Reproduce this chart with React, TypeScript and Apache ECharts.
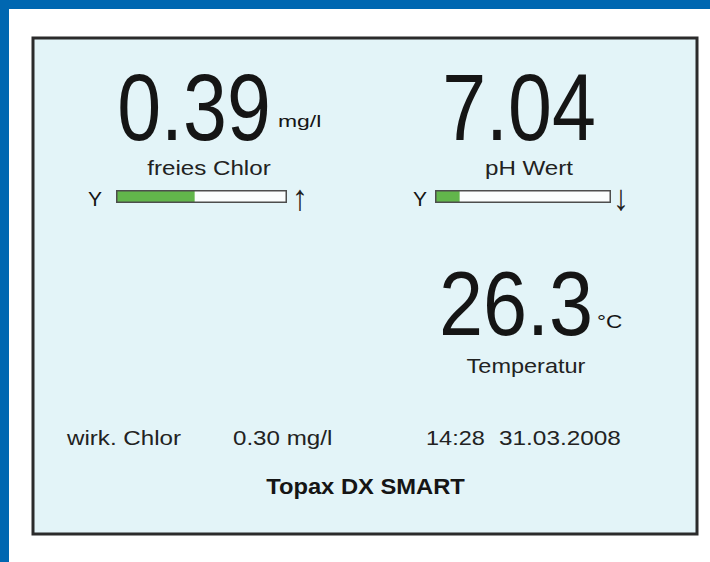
import React, { useEffect, useRef } from "react";
import * as echarts from "echarts";

// ---- data ----
const measurementLabels = ["freies Chlor", "pH Wert", "Temperatur"];
const measurementValues = [0.39, 7.04, 26.3];
const measurementDecimals = [2, 2, 1];
const measurementUnits = ["mg/l", "", "°C"];
const barCategories = ["freies Chlor", "pH Wert"];
const barLevels = [46, 14]; // filled share of the bar, %
const barMarkers = ["Y", "Y"];
const trendArrows = ["↑", "↓"];
const footerLabel = "wirk. Chlor";
const footerValue = 0.3;
const footerUnit = "mg/l";
const timeText = "14:28";
const dateText = "31.03.2008";
const deviceName = "Topax DX SMART";

const FONT = "'Liberation Sans', Arial, Helvetica, sans-serif";

function txt(
  text: string,
  x: number,
  y: number,
  size: number,
  sx: number,
  align: string,
  weight: string = "normal",
  sy: number = 1,
  fill: string = "#151515"
) {
  return {
    type: "text",
    x,
    y,
    scaleX: sx,
    scaleY: sy,
    z: 20,
    style: {
      text,
      x: 0,
      y: 0,
      align,
      verticalAlign: "middle",
      fill,
      font: `${weight} ${size}px ${FONT}`,
    },
  };
}

export default function App() {
  const ref = useRef<HTMLDivElement>(null);
  useEffect(() => {
    if (!ref.current) return;
    const chart = echarts.init(ref.current, undefined, { renderer: "svg" });

    const grids = [
      { left: 116, top: 190, width: 171, height: 13 },
      { left: 435, top: 190, width: 176, height: 13 },
    ];
    const series: any[] = [];
    barCategories.forEach((_, i) => {
      series.push({
        type: "bar",
        xAxisIndex: i,
        yAxisIndex: i,
        data: [100],
        barWidth: 13,
        barGap: "-100%",
        silent: true,
        itemStyle: { color: "#fbfdfd" },
        z: 2,
      });
      series.push({
        type: "bar",
        xAxisIndex: i,
        yAxisIndex: i,
        data: [barLevels[i]],
        barWidth: 13,
        barGap: "-100%",
        silent: true,
        itemStyle: { color: "#62b64b" },
        z: 3,
      });
      series.push({
        type: "bar",
        xAxisIndex: i,
        yAxisIndex: i,
        data: [100],
        barWidth: 13,
        barGap: "-100%",
        silent: true,
        itemStyle: { color: "transparent", borderColor: "#4d4d4d", borderWidth: 1.5 },
        z: 4,
      });
    });

    const fmt = (i: number) => measurementValues[i].toFixed(measurementDecimals[i]);

    const graphic: any[] = [
      { type: "rect", z: -10, shape: { x: 0, y: 0, width: 710, height: 9 }, style: { fill: "#0067b1" } },
      { type: "rect", z: -10, shape: { x: 0, y: 0, width: 9, height: 562 }, style: { fill: "#0067b1" } },
      {
        type: "rect",
        z: -9,
        shape: { x: 33, y: 38, width: 664, height: 496 },
        style: { fill: "#e3f4f8", stroke: "#2b2b2b", lineWidth: 3 },
      },
      // big readings
      txt(fmt(0), 194, 107, 94, 0.84, "center"),
      txt(fmt(1), 519, 107, 94, 0.84, "center"),
      txt(fmt(2), 516, 304, 90, 0.88, "center"),
      // units
      txt(measurementUnits[0], 278, 121, 17, 1.35, "left"),
      txt(measurementUnits[2], 597, 322, 18, 1.25, "left"),
      // labels
      txt(measurementLabels[0], 209, 168, 21, 1.15, "center", "normal", 1, "#222222"),
      txt(measurementLabels[1], 529, 168, 21, 1.15, "center", "normal", 1, "#222222"),
      txt(measurementLabels[2], 526, 366, 21, 1.12, "center", "normal", 1, "#222222"),
      // bar markers
      txt(barMarkers[0], 95, 198, 21, 1.0, "center"),
      txt(trendArrows[0], 300, 197, 36, 0.9, "center", "normal", 1, "#222222"),
      txt(barMarkers[1], 420, 198, 21, 1.0, "center"),
      txt(trendArrows[1], 621, 197, 36, 0.9, "center", "normal", 1, "#222222"),
      // footer
      txt(footerLabel, 67, 438, 21, 1.15, "left", "normal", 1, "#222222"),
      txt(`${footerValue.toFixed(2)} ${footerUnit}`, 233, 438, 21, 1.15, "left", "normal", 1, "#222222"),
      txt(timeText, 426, 438, 21, 1.12, "left", "normal", 1, "#222222"),
      txt(dateText, 499, 438, 21, 1.16, "left", "normal", 1, "#222222"),
      txt(deviceName, 365.5, 486, 22, 1.08, "center", "bold"),
    ];

    chart.setOption({
      animation: false,
      backgroundColor: "#ffffff",
      grid: grids,
      xAxis: grids.map((_, i) => ({ type: "value", gridIndex: i, min: 0, max: 100, show: false })),
      yAxis: barCategories.map((c, i) => ({ type: "category", gridIndex: i, data: [c], show: false })),
      series,
      graphic,
    });
    return () => chart.dispose();
  }, []);
  return (
    <div
      ref={ref}
      style={{ position: "fixed", left: 0, top: 0, width: 710, height: 562 }}
    />
  );
}
